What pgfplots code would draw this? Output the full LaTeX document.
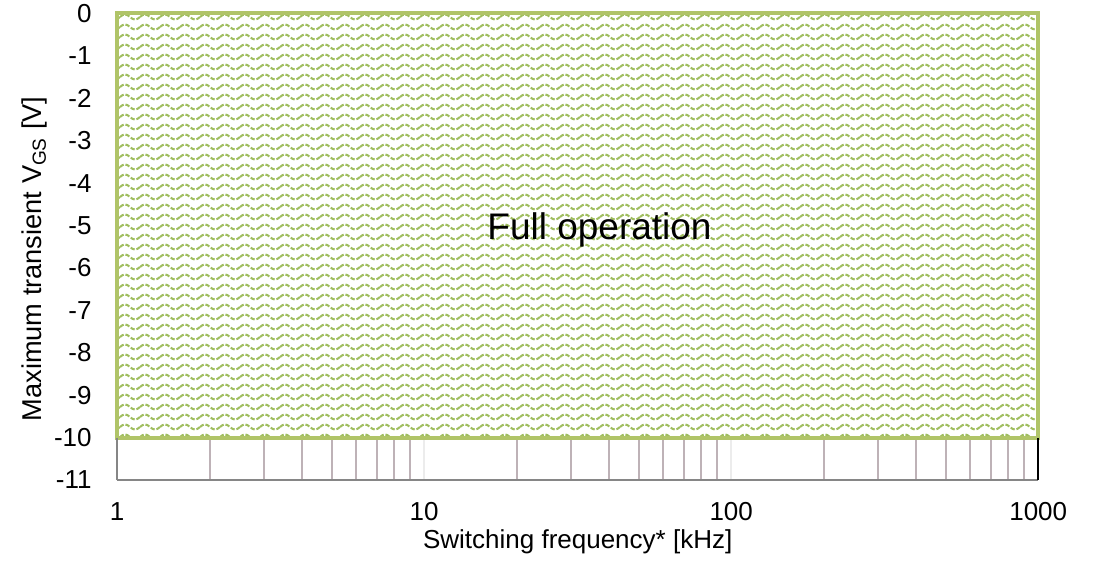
\documentclass[border=0pt]{standalone}
\usepackage{fontspec}
\setmainfont{Liberation Sans}
\usepackage{pgfplots}
\pgfplotsset{compat=1.18}
\usetikzlibrary{patterns.meta}
\definecolor{bordergreen}{RGB}{176,196,104}
\definecolor{patgreen}{RGB}{160,190,95}
\definecolor{minorgrid}{RGB}{190,178,183}
\definecolor{majorgrid}{RGB}{236,236,236}
\definecolor{axisgray}{RGB}{134,134,134}
\tikzdeclarepattern{
  name=waves,
  type=uncolored,
  bounding box={(0bp,-2.5bp) and (10bp,2.5bp)},
  tile size={(10bp,5bp)},
  code={
    \draw[line width=1bp, dash pattern=on 2.2bp off 0.9bp]
      (0bp,0bp) sin (2.5bp,1.3bp) cos (5bp,0bp) sin (7.5bp,-1.3bp) cos (10bp,0bp);
  }
}
\begin{document}
\begin{tikzpicture}
\begin{axis}[
  xmode=log, log basis x=10,
  scale only axis, width=460.5bp, height=233.25bp,
  xmin=1, xmax=1000, ymin=-11, ymax=0,
  clip=false,
  font=\fontsize{13bp}{15.6bp}\selectfont,
  xtick={1,10,100,1000}, xticklabels={1,10,100,1000},
  minor xtick={2,3,4,5,6,7,8,9,20,30,40,50,60,70,80,90,200,300,400,500,600,700,800,900},
  ytick={-11,-10,-9,-8,-7,-6,-5,-4,-3,-2,-1,0},
  yticklabels={-11,-10,-9,-8,-7,-6,-5,-4,-3,-2,-1,0},
  xmajorgrids, xminorgrids,
  major grid style={draw=majorgrid, line width=1bp},
  minor grid style={draw=minorgrid, line width=1bp},
  axis line style={draw=none},
  tick style={draw=none},
  major tick length=0pt, minor tick length=0pt,
  xticklabel style={anchor=base, inner sep=0pt, yshift=-20.35bp},
  yticklabel style={anchor=east, inner sep=0pt, xshift=-12.6bp},
]
\addplot[draw=none, fill=white] coordinates {(1,0) (1000,0) (1000,-10) (1,-10)} -- cycle;
\addplot[draw=none, pattern=waves, pattern color=patgreen] coordinates {(1,0) (1000,0) (1000,-10) (1,-10)} -- cycle;
\addplot[draw=bordergreen, line width=2bp, line join=miter] coordinates {(1,0) (1000,0) (1000,-10) (1,-10)} -- cycle;
\draw[axisgray, line width=1bp] (axis cs:1,-11) -- (axis cs:1000,-11);
\draw[axisgray, line width=1bp] (axis cs:1,-11) -- (axis cs:1,-10);
\draw[black, line width=0.8bp] (axis cs:1000,-11) -- (axis cs:1000,-10);
\node[anchor=base, font=\fontsize{18.5bp}{22bp}\selectfont] at (rel axis cs:0.5237,0.5166) {Full operation};
\node[anchor=base] at (rel axis cs:0.5,-0.1464) {Switching frequency* [kHz]};
\node[anchor=base, rotate=90, font=\fontsize{13.6bp}{16bp}\selectfont] at (rel axis cs:-0.082,0.474) {Maximum transient V\textsubscript{GS} [V]};
\coordinate (sw) at (rel axis cs:0,0);
\end{axis}
\pgfresetboundingbox
\path (sw) ++(-58.6bp,-43.5bp) rectangle ++(547bp,283.5bp);
\end{tikzpicture}
\end{document}
